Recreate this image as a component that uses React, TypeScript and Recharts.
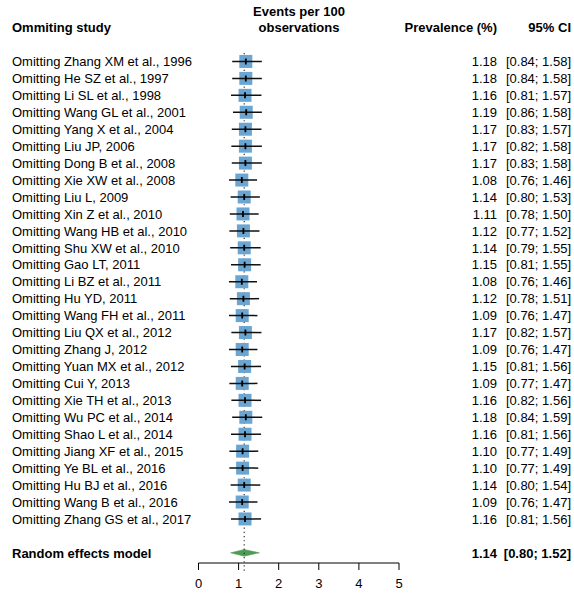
import React from "react";
import {
  ScatterChart,
  Scatter,
  XAxis,
  YAxis,
  ReferenceLine,
  ReferenceArea,
} from "recharts";

const studies = [
  "Omitting Zhang XM et al., 1996",
  "Omitting He SZ et al., 1997",
  "Omitting Li SL et al., 1998",
  "Omitting Wang GL et al., 2001",
  "Omitting Yang X et al., 2004",
  "Omitting Liu JP, 2006",
  "Omitting Dong B et al., 2008",
  "Omitting Xie XW et al., 2008",
  "Omitting Liu L, 2009",
  "Omitting Xin Z et al., 2010",
  "Omitting Wang HB et al., 2010",
  "Omitting Shu XW et al., 2010",
  "Omitting Gao LT, 2011",
  "Omitting Li BZ et al., 2011",
  "Omitting Hu YD, 2011",
  "Omitting Wang FH et al., 2011",
  "Omitting Liu QX et al., 2012",
  "Omitting Zhang J, 2012",
  "Omitting Yuan MX et al., 2012",
  "Omitting Cui Y, 2013",
  "Omitting Xie TH et al., 2013",
  "Omitting Wu PC et al., 2014",
  "Omitting Shao L et al., 2014",
  "Omitting Jiang XF et al., 2015",
  "Omitting Ye BL et al., 2016",
  "Omitting Hu BJ et al., 2016",
  "Omitting Wang B et al., 2016",
  "Omitting Zhang GS et al., 2017",
];

const prevalence = [
  1.18, 1.18, 1.16, 1.19, 1.17, 1.17, 1.17, 1.08, 1.14, 1.11, 1.12, 1.14, 1.15, 1.08,
  1.12, 1.09, 1.17, 1.09, 1.15, 1.09, 1.16, 1.18, 1.16, 1.1, 1.1, 1.14, 1.09, 1.16,
];

const ciLower = [
  0.84, 0.84, 0.81, 0.86, 0.83, 0.82, 0.83, 0.76, 0.8, 0.78, 0.77, 0.79, 0.81, 0.76,
  0.78, 0.76, 0.82, 0.76, 0.81, 0.77, 0.82, 0.84, 0.81, 0.77, 0.77, 0.8, 0.76, 0.81,
];

const ciUpper = [
  1.58, 1.58, 1.57, 1.58, 1.57, 1.58, 1.58, 1.46, 1.53, 1.5, 1.52, 1.55, 1.55, 1.46,
  1.51, 1.47, 1.57, 1.47, 1.56, 1.47, 1.56, 1.59, 1.56, 1.49, 1.49, 1.54, 1.47, 1.56,
];

const pooledLabel = "Random effects model";
const pooledEst = 1.14;
const pooledLower = 0.8;
const pooledUpper = 1.52;

const xTicks = [0, 1, 2, 3, 4, 5];

const pooledRow = studies.length + 1;

const rows = studies.map((s, i) => ({ row: i, est: prevalence[i] }));

const ciSegments = studies.map((s, i) => [
  { row: i, est: ciLower[i] },
  { row: i, est: ciUpper[i] },
]);

const yTicks = [...studies.map((_, i) => i), pooledRow];

const FONT = "'Liberation Sans', Arial, Helvetica, sans-serif";
const BOX = "#6ba5d2";
const DIAMOND = "#4f9a55";

const LeftTick = (props: any) => {
  const { y, payload } = props;
  const v = payload.value;
  const isPooled = v === pooledRow;
  const label = isPooled ? pooledLabel : studies[v];
  if (label === undefined) return null;
  return (
    <text
      x={12}
      y={y}
      dy="0.36em"
      textAnchor="start"
      fontSize={13}
      fontFamily={FONT}
      fontWeight={isPooled ? "bold" : "normal"}
      fill="#000"
    >
      {label}
    </text>
  );
};

const RightTick = (props: any) => {
  const { y, payload } = props;
  const v = payload.value;
  const isPooled = v === pooledRow;
  const est = isPooled ? pooledEst : prevalence[v];
  const lo = isPooled ? pooledLower : ciLower[v];
  const hi = isPooled ? pooledUpper : ciUpper[v];
  if (est === undefined) return null;
  const weight = isPooled ? "bold" : "normal";
  return (
    <g>
      <text
        x={497}
        y={y}
        dy="0.36em"
        textAnchor="end"
        fontSize={13}
        fontFamily={FONT}
        fontWeight={weight}
        fill="#000"
      >
        {est.toFixed(2)}
      </text>
      <text
        x={571}
        y={y}
        dy="0.36em"
        textAnchor="end"
        fontSize={13}
        fontFamily={FONT}
        fontWeight={weight}
        fill="#000"
      >
        {`[${lo.toFixed(2)}; ${hi.toFixed(2)}]`}
      </text>
    </g>
  );
};

const BoxShape = (props: any) => {
  const { cx, cy } = props;
  if (cx == null || cy == null) return null;
  return <rect x={cx - 6.5} y={cy - 6.5} width={13} height={13} fill={BOX} />;
};

const TickShape = (props: any) => {
  const { cx, cy } = props;
  if (cx == null || cy == null) return null;
  return <line x1={cx} x2={cx} y1={cy - 3} y2={cy + 3} stroke="#000" strokeWidth={1.8} />;
};

const EmptyShape = () => <g />;

const DiamondShape = (props: any) => {
  const { x, y, width, height } = props;
  if (x == null) return null;
  const frac = (pooledEst - pooledLower) / (pooledUpper - pooledLower);
  const mx = x + width * frac;
  const pts = `${x},${y + height / 2} ${mx},${y} ${x + width},${y + height / 2} ${mx},${y + height}`;
  return <polygon points={pts} fill={DIAMOND} stroke={DIAMOND} strokeWidth={0.5} />;
};

const headerStyle: React.CSSProperties = {
  position: "absolute",
  fontFamily: FONT,
  fontSize: 13,
  fontWeight: "bold",
  lineHeight: "16px",
  height: 16,
  color: "#000",
  whiteSpace: "nowrap",
};

export default function App() {
  return (
    <div
      style={{
        position: "absolute",
        left: 0,
        top: 0,
        width: 574,
        height: 599,
        background: "#fff",
      }}
    >
      <ScatterChart
        width={574}
        height={599}
        margin={{ top: 44.5, right: 0, bottom: 0, left: 0 }}
      >
        <XAxis
          type="number"
          dataKey="est"
          domain={[0, 5]}
          ticks={xTicks}
          allowDataOverflow
          height={36}
          tickSize={7}
          tickMargin={9}
          axisLine={{ stroke: "#000", strokeWidth: 1 }}
          tickLine={{ stroke: "#000", strokeWidth: 1 }}
          tick={{ fill: "#000", fontSize: 13, fontFamily: FONT }}
        />
        <YAxis
          yAxisId="left"
          orientation="left"
          type="number"
          dataKey="row"
          domain={[-1, 29.6]}
          reversed
          allowDataOverflow
          ticks={yTicks}
          interval={0}
          width={198.5}
          axisLine={false}
          tickLine={false}
          tick={(p: any) => <LeftTick {...p} />}
        />
        <YAxis
          yAxisId="right"
          orientation="right"
          type="number"
          dataKey="row"
          domain={[-1, 29.6]}
          reversed
          allowDataOverflow
          ticks={yTicks}
          interval={0}
          width={175}
          axisLine={false}
          tickLine={false}
          tick={(p: any) => <RightTick {...p} />}
        />
        <ReferenceLine
          yAxisId="left"
          segment={[
            { x: pooledEst, y: -0.5 },
            { x: pooledEst, y: 30.1 },
          ]}
          ifOverflow="visible"
          stroke="#333"
          strokeWidth={1.2}
          strokeDasharray="1.2 3"
        />
        <Scatter
          yAxisId="left"
          data={rows}
          dataKey="est"
          shape={(p: any) => <BoxShape {...p} />}
          isAnimationActive={false}
        />
        {ciSegments.map((seg, i) => (
          <Scatter
            key={`ci-${i}`}
            yAxisId="left"
            data={seg}
            dataKey="est"
            line={{ stroke: "#111", strokeWidth: 1.5 }}
            shape={EmptyShape}
            isAnimationActive={false}
          />
        ))}
        <Scatter
          yAxisId="left"
          data={rows}
          dataKey="est"
          shape={(p: any) => <TickShape {...p} />}
          isAnimationActive={false}
        />
        <ReferenceArea
          yAxisId="left"
          x1={pooledLower}
          x2={pooledUpper}
          y1={pooledRow - 0.2}
          y2={pooledRow + 0.2}
          ifOverflow="visible"
          shape={(p: any) => <DiamondShape {...p} />}
        />
      </ScatterChart>

      <div style={{ ...headerStyle, left: 12, top: 20 }}>Ommiting study</div>
      <div style={{ ...headerStyle, left: 199, width: 200, top: 4, textAlign: "center" }}>
        Events per 100
      </div>
      <div style={{ ...headerStyle, left: 199, width: 200, top: 20, textAlign: "center" }}>
        observations
      </div>
      <div style={{ ...headerStyle, right: 77, top: 20, textAlign: "right" }}>Prevalence (%)</div>
      <div style={{ ...headerStyle, right: 3, top: 20, textAlign: "right" }}>95% CI</div>
    </div>
  );
}
